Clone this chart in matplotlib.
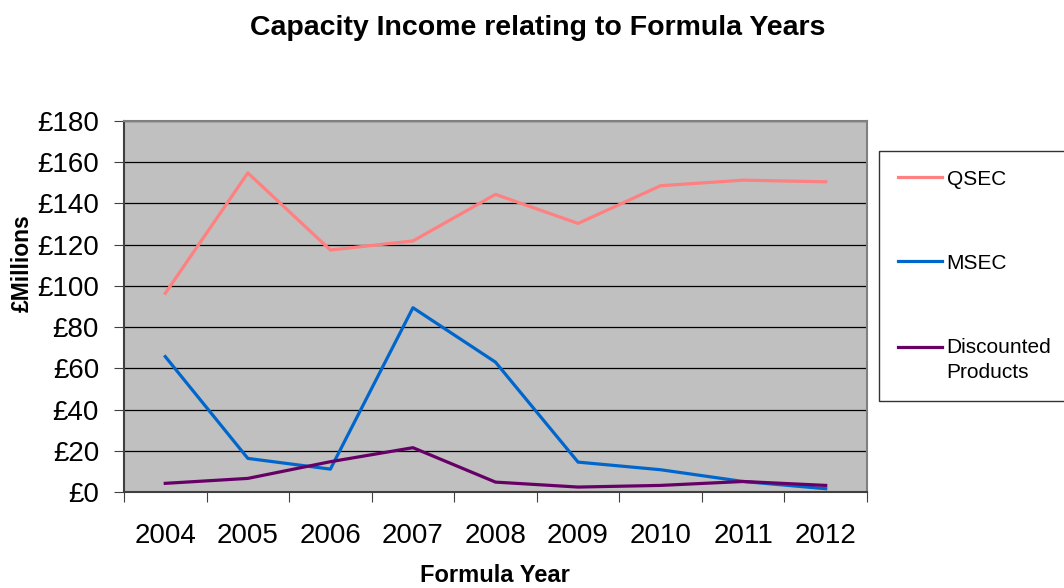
import matplotlib
matplotlib.use("Agg")
import matplotlib.pyplot as plt
from matplotlib.legend_handler import HandlerLine2D
import numpy as np

plt.rcParams['font.family'] = ['Liberation Sans', 'DejaVu Sans']

years = ['2004', '2005', '2006', '2007', '2008', '2009', '2010', '2011', '2012']
qsec = [96.4, 154.8, 117.4, 121.8, 144.4, 130.3, 148.6, 151.3, 150.5]
msec = [65.7, 16.3, 11.1, 89.4, 63.0, 14.5, 10.8, 5.1, 1.6]
discounted = [4.2, 6.6, 14.7, 21.5, 4.8, 2.4, 3.2, 5.1, 3.2]


# handle for a two-line label sits next to the first line, not the middle
class FirstLineHandler(HandlerLine2D):
    def create_artists(self, legend, orig_handle, xdescent, ydescent,
                       width, height, fontsize, trans):
        return super().create_artists(legend, orig_handle, xdescent,
                                      ydescent - 1.25*fontsize, width, height,
                                      fontsize, trans)


fig = plt.figure(figsize=(10.64, 5.88), dpi=100)
ax = fig.add_axes([124/1064, 1-492/588, (867-124)/1064, (492-121)/588])
ax.set_facecolor('#C0C0C0')

x = np.arange(len(years))
l1, = ax.plot(x, qsec, color='#FF8080', lw=2.3, label='QSEC')
l2, = ax.plot(x, msec, color='#0066CC', lw=2.3, label='MSEC')
l3, = ax.plot(x, discounted, color='#660066', lw=2.3, label='Discounted\nProducts')

ax.set_xlim(-0.5, len(years)-0.5)
ax.set_ylim(0, 180)
ax.set_yticks(np.arange(0, 181, 20))
ax.set_yticklabels(['£%d' % v for v in range(0, 181, 20)], fontsize=20)
ax.yaxis.grid(True, color='black', lw=0.9)
ax.set_axisbelow(True)

# tick marks at category boundaries, labels at centres
ax.set_xticks(np.arange(-0.5, len(years), 1.0))
ax.set_xticklabels([])
ax.set_xticks(x, minor=True)
ax.set_xticklabels(years, minor=True, fontsize=20)
ax.tick_params(axis='x', which='minor', length=0, pad=22)
ax.tick_params(axis='x', which='major', length=7, color='#404040')
ax.tick_params(axis='y', length=7, pad=11, color='#404040')

for s in ax.spines.values():
    s.set_color('#808080')
    s.set_linewidth(1.5)
ax.spines['left'].set_color('#404040')
ax.spines['bottom'].set_color('#404040')

fig.text(0.505, 1-28/588, 'Capacity Income relating to Formula Years',
         ha='center', va='center', fontsize=20.5, fontweight='bold')
fig.text(495/1064, 1-576/588, 'Formula Year', ha='center', va='center',
         fontsize=17, fontweight='bold')
fig.text(22/1064, 1-263/588, '£Millions', ha='center', va='center',
         rotation=90, fontsize=16.5, fontweight='bold')

leg = fig.legend(handles=[l1, l2, l3], loc='upper left',
                 bbox_to_anchor=(879/1064, 1-151/588),
                 fontsize=15, frameon=True, fancybox=False, edgecolor='black',
                 handlelength=2.1, handletextpad=0.25, labelspacing=3.12,
                 borderpad=0.9, borderaxespad=0,
                 handler_map={l3: FirstLineHandler()})
leg.get_frame().set_linewidth(1.0)
leg.get_texts()[2].set_linespacing(1.45)

fig.savefig('out.png', dpi=100)
